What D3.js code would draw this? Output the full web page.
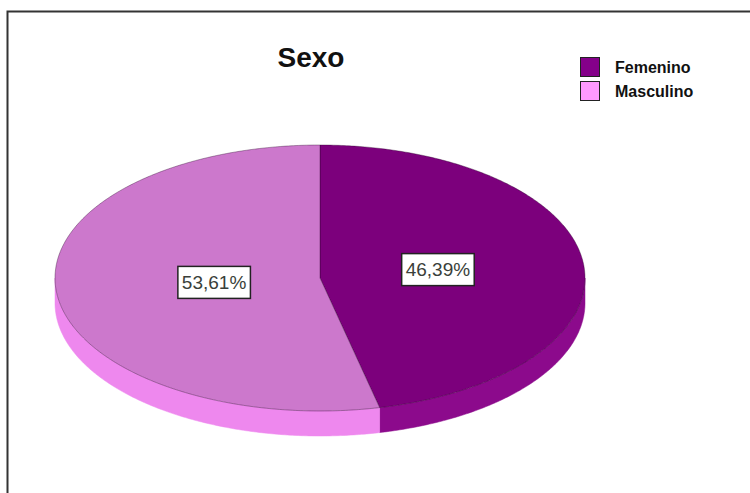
<!DOCTYPE html>
<html>
<head>
<meta charset="utf-8">
<script src="https://cdn.jsdelivr.net/npm/d3@7"></script>
<style>
  html, body { margin: 0; padding: 0; background: #ffffff; }
  svg { display: block; }
</style>
</head>
<body>
<svg id="chart" width="750" height="493"></svg>
<script>
// ---- data ----
const categories = ["Femenino", "Masculino"];
const values = [46.39, 53.61];
const labels = ["46,39%", "53,61%"];
const title = "Sexo";

// ---- styles ----
const topColors = ["#7c007c", "#cc78cc"];
const sideColors = ["#8c0a8c", "#ee88ee"];
const legendColors = ["#85008a", "#ff99ff"];

const svg = d3.select("#chart");

// frame
svg.append("rect")
  .attr("x", 7.5).attr("y", 11.5)
  .attr("width", 900).attr("height", 700)
  .attr("fill", "#ffffff")
  .attr("stroke", "#333").attr("stroke-width", 2);

// title
svg.append("text")
  .attr("x", 311).attr("y", 67)
  .attr("text-anchor", "middle")
  .attr("font-family", "Liberation Sans, Arial, sans-serif")
  .attr("font-weight", "bold")
  .attr("font-size", 28)
  .attr("fill", "#111")
  .text(title);

// pie geometry
const cx = 320, cy = 278, rx = 265, ry = 133, depth = 25;
const pie = d3.pie().sort(null).startAngle(0).endAngle(2 * Math.PI);
const arcs = pie(values);

function pt(a, dy) {
  return [cx + rx * Math.sin(a), cy - ry * Math.cos(a) + (dy || 0)];
}
function arcPoints(a0, a1, dy) {
  const n = Math.max(2, Math.ceil(Math.abs(a1 - a0) / 0.01));
  const pts = [];
  for (let i = 0; i <= n; i++) pts.push(pt(a0 + (a1 - a0) * i / n, dy));
  return pts;
}
const line = d3.line();

// sides (front half only: angles between PI/2 and 3PI/2)
arcs.forEach((d, i) => {
  const s = Math.max(d.startAngle, Math.PI / 2);
  const e = Math.min(d.endAngle, 3 * Math.PI / 2);
  if (e <= s) return;
  const topPts = arcPoints(s, e, 0);
  const botPts = arcPoints(e, s, depth);
  svg.append("path")
    .attr("d", line(topPts.concat(botPts)) + "Z")
    .attr("fill", sideColors[i])
    .attr("stroke", sideColors[i])
    .attr("stroke-width", 0.5);
});

// tops
arcs.forEach((d, i) => {
  const pts = [[cx, cy]].concat(arcPoints(d.startAngle, d.endAngle, 0));
  svg.append("path")
    .attr("d", line(pts) + "Z")
    .attr("fill", topColors[i])
    .attr("stroke", "rgba(40,0,40,0.45)")
    .attr("stroke-width", 0.8);
});

// labels
const labelFrac = 0.425, labelShift = 6;
arcs.forEach((d, i) => {
  const m = (d.startAngle + d.endAngle) / 2;
  const x = cx + labelShift + labelFrac * rx * Math.sin(m);
  const y = cy - 2 - labelFrac * ry * Math.cos(m);
  const g = svg.append("g");
  const t = g.append("text")
    .attr("x", x).attr("y", y)
    .attr("text-anchor", "middle")
    .attr("dominant-baseline", "central")
    .attr("font-family", "Liberation Sans, Arial, sans-serif")
    .attr("font-size", 19)
    .attr("fill", "#3a3f3a")
    .text(labels[i]);
  const bb = t.node().getBBox();
  g.insert("rect", "text")
    .attr("x", bb.x - 4).attr("y", y - 16)
    .attr("width", bb.width + 8).attr("height", 32)
    .attr("fill", "#ffffff")
    .attr("stroke", "#222")
    .attr("stroke-width", 1.5);
});

// legend
const lx = 580, ly = 57, lstep = 24;
categories.forEach((c, i) => {
  svg.append("rect")
    .attr("x", lx + 0.5).attr("y", ly + i * lstep + 0.5)
    .attr("width", 19).attr("height", 19)
    .attr("fill", legendColors[i])
    .attr("stroke", "#222").attr("stroke-width", 1);
  svg.append("text")
    .attr("x", lx + 35).attr("y", ly + i * lstep + 16)
    .attr("font-family", "Liberation Sans, Arial, sans-serif")
    .attr("font-weight", "bold")
    .attr("font-size", 16)
    .attr("fill", "#111")
    .text(c);
});
</script>
</body>
</html>
